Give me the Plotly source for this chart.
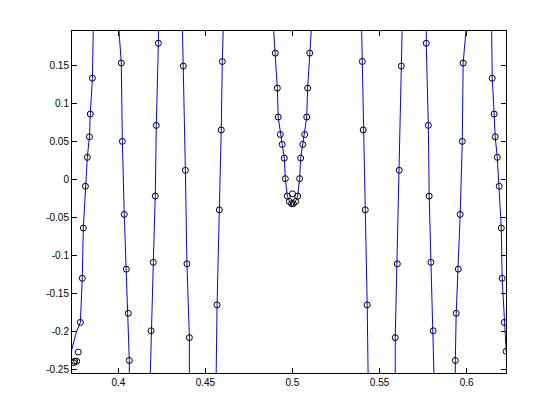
import plotly.graph_objects as go

# contour branches (x, y), left to right
line1_x = [0.3857, 0.3851, 0.3839, 0.3834, 0.3822, 0.3811, 0.3799, 0.3793, 0.3782, 0.3757, 0.3734, 0.3715]
line1_y = [0.210, 0.133, 0.086, 0.056, 0.029, -0.009, -0.064, -0.130, -0.188, -0.202, -0.221, -0.240]
line2_x = [0.4003, 0.4004, 0.4017, 0.4023, 0.4034, 0.4046, 0.4057, 0.4063, 0.4063]
line2_y = [0.210, 0.195, 0.153, 0.050, -0.046, -0.118, -0.176, -0.238, -0.270]
line3_x = [0.4231, 0.4230, 0.4218, 0.4212, 0.4201, 0.4188, 0.4182]
line3_y = [0.210, 0.179, 0.071, -0.022, -0.109, -0.199, -0.270]
line4_x = [0.4367, 0.4373, 0.4385, 0.4394, 0.4408, 0.4408]
line4_y = [0.210, 0.149, 0.012, -0.111, -0.208, -0.270]
line5_x = [0.4604, 0.4597, 0.4591, 0.4580, 0.4567, 0.4561]
line5_y = [0.210, 0.155, 0.065, -0.040, -0.165, -0.270]
v_x = [0.4888, 0.4901, 0.4913, 0.4918, 0.4930, 0.4941, 0.4953, 0.4959, 0.4970, 0.4985, 0.5000,
       0.5015, 0.5030, 0.5041, 0.5047, 0.5059, 0.5070, 0.5082, 0.5087, 0.5099, 0.5112]
v_y = [0.210, 0.166, 0.120, 0.082, 0.059, 0.046, 0.028, 0.001, -0.022, -0.030, -0.035,
       -0.030, -0.022, 0.001, 0.028, 0.046, 0.059, 0.082, 0.120, 0.166, 0.210]
line6_x = [0.5396, 0.5401, 0.5406, 0.5418, 0.5429, 0.5435]
line6_y = [0.210, 0.155, 0.065, -0.040, -0.165, -0.270]
line7_x = [0.5631, 0.5625, 0.5613, 0.5602, 0.5590, 0.5590]
line7_y = [0.210, 0.149, 0.012, -0.111, -0.208, -0.270]
line8_x = [0.5769, 0.5768, 0.5780, 0.5785, 0.5795, 0.5808, 0.5814]
line8_y = [0.210, 0.179, 0.071, -0.022, -0.109, -0.199, -0.270]
line9_x = [0.5997, 0.5996, 0.5980, 0.5975, 0.5963, 0.5952, 0.5940, 0.5935, 0.5935]
line9_y = [0.210, 0.195, 0.153, 0.050, -0.046, -0.118, -0.176, -0.238, -0.270]
line10_x = [0.6143, 0.6147, 0.6158, 0.6164, 0.6176, 0.6187, 0.6199, 0.6204, 0.6216, 0.6227, 0.6250]
line10_y = [0.210, 0.133, 0.086, 0.056, 0.029, -0.009, -0.064, -0.130, -0.188, -0.226, -0.240]

# computed points (circles)
pts_x = [0.3851, 0.3839, 0.3834, 0.3822, 0.3811, 0.3799, 0.3793, 0.3782, 0.3770, 0.3761, 0.3744, 0.3749,
         0.4017, 0.4023, 0.4034, 0.4046, 0.4057, 0.4063,
         0.4230, 0.4218, 0.4212, 0.4201, 0.4188,
         0.4373, 0.4385, 0.4394, 0.4408,
         0.4597, 0.4591, 0.4580, 0.4567,
         0.4901, 0.4913, 0.4918, 0.4930, 0.4941, 0.4953, 0.4959, 0.4970, 0.4982, 0.5000, 0.5018,
         0.5030, 0.5041, 0.5047, 0.5059, 0.5070, 0.5082, 0.5087, 0.5099, 0.4995, 0.5005,
         0.5401, 0.5406, 0.5418, 0.5429,
         0.5625, 0.5613, 0.5602, 0.5590,
         0.5768, 0.5780, 0.5785, 0.5795, 0.5808,
         0.5980, 0.5975, 0.5963, 0.5952, 0.5940, 0.5935,
         0.6147, 0.6158, 0.6164, 0.6176, 0.6187, 0.6199, 0.6204, 0.6216, 0.6227]
pts_y = [0.133, 0.086, 0.056, 0.029, -0.009, -0.064, -0.130, -0.188, -0.227, -0.239, -0.241, -0.239,
         0.153, 0.050, -0.046, -0.118, -0.176, -0.238,
         0.179, 0.071, -0.022, -0.109, -0.199,
         0.149, 0.012, -0.111, -0.208,
         0.155, 0.065, -0.040, -0.165,
         0.166, 0.120, 0.082, 0.059, 0.046, 0.028, 0.001, -0.022, -0.029, -0.019, -0.029,
         -0.022, 0.001, 0.028, 0.046, 0.059, 0.082, 0.120, 0.166, -0.032, -0.032,
         0.155, 0.065, -0.040, -0.165,
         0.149, 0.012, -0.111, -0.208,
         0.179, 0.071, -0.022, -0.109, -0.199,
         0.153, 0.050, -0.046, -0.118, -0.176, -0.238,
         0.133, 0.086, 0.056, 0.029, -0.009, -0.064, -0.130, -0.188, -0.226]

x_ticks = [0.4, 0.45, 0.5, 0.55, 0.6]
x_labels = ['0.4', '0.45', '0.5', '0.55', '0.6']
y_ticks = [-0.25, -0.2, -0.15, -0.1, -0.05, 0, 0.05, 0.1, 0.15]
y_labels = ['-0.25', '-0.2', '-0.15', '-0.1', '-0.05', '0', '0.05', '0.1', '0.15']

lines = [(line1_x, line1_y), (line2_x, line2_y), (line3_x, line3_y), (line4_x, line4_y),
         (line5_x, line5_y), (v_x, v_y), (line6_x, line6_y), (line7_x, line7_y),
         (line8_x, line8_y), (line9_x, line9_y), (line10_x, line10_y)]

fig = go.Figure()
for lx, ly in lines:
    fig.add_trace(go.Scatter(x=lx, y=ly, mode='lines', line=dict(color='#0000ff', width=1),
                             hoverinfo='skip'))

fig.add_trace(go.Scatter(x=pts_x, y=pts_y, mode='markers',
                         marker=dict(symbol='circle-open', size=6, color='black', line=dict(width=1))))

axis_style = dict(showgrid=False, zeroline=False, showline=True, linecolor='black', linewidth=1,
                  mirror='ticks', ticks='inside', ticklen=5, tickcolor='black', tickwidth=1,
                  tickfont=dict(family='Liberation Sans, Arial, sans-serif', size=10, color='black'))

# page body adds an 8px offset, so margins are shifted to put the axes box at 72..506 / 31..373
fig.update_layout(
    width=560, height=419,
    margin=dict(l=64, r=62, t=23, b=54),
    paper_bgcolor='white', plot_bgcolor='white',
    showlegend=False,
    xaxis=dict(range=[0.3734, 0.6226], tickvals=x_ticks, ticktext=x_labels, **axis_style),
    yaxis=dict(range=[-0.2545, 0.1951], tickvals=y_ticks, ticktext=y_labels, **axis_style),
)

fig.write_html("out.html")
